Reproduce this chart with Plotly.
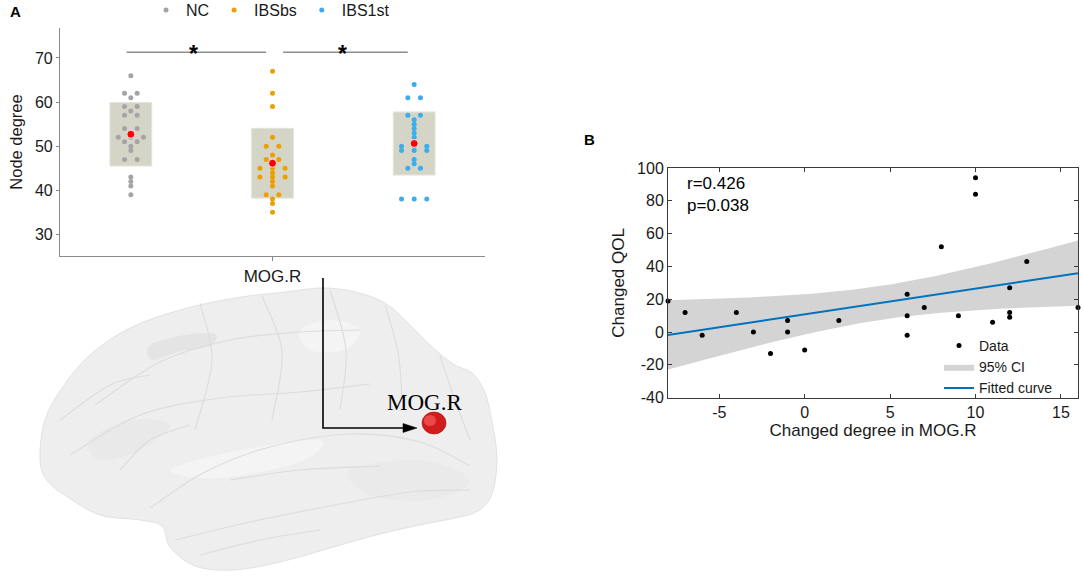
import numpy as np
import plotly.graph_objects as go

W, H = 1084, 582

# ---------------- data ----------------
groups = ["NC", "IBSbs", "IBS1st"]
region = "MOG.R"
nc_degree = [66, 62, 62, 61, 59, 59, 58, 57, 57, 54, 54, 52, 52, 52, 51, 51, 50, 49, 47, 47, 43, 42, 41, 39]
ibsbs_degree = [67, 62, 59, 52, 50, 50, 48, 47, 47, 45, 45, 45, 44, 43, 43, 43, 42, 41, 39, 39, 38, 37, 35]
ibs1st_degree = [64, 61, 61, 57, 57, 56, 55, 54, 53, 52, 50, 50, 50, 49, 49, 49, 47, 46, 45, 45, 38, 38, 38]
group_colors = ["#a4a4a4", "#eca000", "#3cadea"]
sig_pairs = [(0, 1), (1, 2)]
sig_marks = ["*", "*"]

changed_degree = [-8, -7, -6, -4, -3, -2, -1, -1, 0, 2, 6, 6, 6, 7, 8, 9, 10, 10, 11, 12, 12, 12, 13, 16]
changed_qol = [19, 12, -2, 12, 0, -13, 7, 0, -11, 7, 23, 10, -2, 15, 52, 10, 94, 84, 6, 27, 12, 9, 43, 15]
stat_text = ["r=0.426", "p=0.038"]
b_xticks = [-5, 0, 5, 10, 15]
b_yticks = [-40, -20, 0, 20, 40, 60, 80, 100]
a_yticks = [30, 40, 50, 60, 70]
T_CRIT = 2.0739  # t(0.975, df=22)

FONT = "Liberation Sans, Arial, sans-serif"
SERIF = "Liberation Serif, Times New Roman, serif"


def px(x):
    return x / W


def py(y):
    return 1 - y / H


def P(x, y):
    return f"{px(x):.5f},{py(y):.5f}"


def smooth_path(pts, closed=True):
    pts = list(pts)
    n = len(pts)
    s = "M" + P(*pts[0])
    rng = range(n) if closed else range(n - 1)
    for i in rng:
        p0 = pts[(i - 1) % n] if (closed or i > 0) else pts[i]
        p1 = pts[i]
        p2 = pts[(i + 1) % n]
        p3 = pts[(i + 2) % n] if (closed or i + 2 < n) else p2
        c1 = (p1[0] + (p2[0] - p0[0]) / 6, p1[1] + (p2[1] - p0[1]) / 6)
        c2 = (p2[0] - (p3[0] - p1[0]) / 6, p2[1] - (p3[1] - p1[1]) / 6)
        s += " C" + P(*c1) + " " + P(*c2) + " " + P(*p2)
    if closed:
        s += " Z"
    return s


def swarm_offsets(vals, step):
    vals = np.asarray(vals)
    off = np.zeros(len(vals))
    for v in np.unique(vals):
        idx = np.where(vals == v)[0]
        n = len(idx)
        off[idx] = (np.arange(n) - (n - 1) / 2) * 2 * step
    return off


def hyphen_labels(vals):
    return [str(v) for v in vals]


fig = go.Figure()

# ---------------- panel A ----------------
all_groups = [nc_degree, ibsbs_degree, ibs1st_degree]
pos = np.arange(1, len(groups) + 1)
means = [float(np.mean(g)) for g in all_groups]
sds = [float(np.std(g, ddof=1)) for g in all_groups]

fig.add_trace(go.Bar(
    x=pos, y=[2 * s for s in sds], base=[m - s for m, s in zip(means, sds)],
    width=0.295, marker=dict(color="#d5d5c7", line=dict(color="#e4e4da", width=1)),
    showlegend=False, hoverinfo="skip", xaxis="x", yaxis="y"))

for i, (name, vals, col) in enumerate(zip(groups, all_groups, group_colors)):
    off = swarm_offsets(vals, 0.0445)
    fig.add_trace(go.Scatter(
        x=pos[i] + off, y=vals, mode="markers", name=name,
        marker=dict(size=5, color=col), legend="legend", xaxis="x", yaxis="y"))

fig.add_trace(go.Scatter(
    x=pos, y=means, mode="markers", showlegend=False,
    marker=dict(size=8, color="#ff0000", line=dict(color="#f2e6e6", width=1)),
    xaxis="x", yaxis="y"))

sig_y = 71.3
for k, ((a, b), mark) in enumerate(zip(sig_pairs, sig_marks)):
    x0 = pos[a] + (-0.03 if k == 0 else 0.075)
    x1 = pos[b] - 0.045
    fig.add_trace(go.Scatter(
        x=[x0, x1], y=[sig_y, sig_y], mode="lines", showlegend=False,
        line=dict(color="#8e8e8e", width=1.3), hoverinfo="skip", xaxis="x", yaxis="y"))
    fig.add_annotation(x=(x0 + x1) / 2 - 0.02, y=sig_y - 0.4, xref="x", yref="y",
                       text="<b>" + mark + "</b>",
                       showarrow=False, yanchor="middle", xanchor="center",
                       font=dict(family=FONT, size=23, color="#000000"))

# ---------------- panel B ----------------
xd = np.asarray(changed_degree, float)
yd = np.asarray(changed_qol, float)
n = len(xd)
slope, intercept = np.polyfit(xd, yd, 1)
res = yd - (slope * xd + intercept)
s_res = np.sqrt(np.sum(res ** 2) / (n - 2))
sxx = np.sum((xd - xd.mean()) ** 2)
xs = np.linspace(xd.min(), xd.max(), 121)
yfit = slope * xs + intercept
half = T_CRIT * s_res * np.sqrt(1 / n + (xs - xd.mean()) ** 2 / sxx)

fig.add_trace(go.Scatter(
    x=np.concatenate([xs, xs[::-1]]), y=np.concatenate([yfit + half, (yfit - half)[::-1]]),
    fill="toself", fillcolor="#d4d4d4", line=dict(width=0, color="#d4d4d4"), mode="lines",
    name="95% CI", legend="legend2", legendrank=2, hoverinfo="skip",
    xaxis="x2", yaxis="y2"))
fig.add_trace(go.Scatter(
    x=xs, y=yfit, mode="lines", name="Fitted curve", line=dict(color="#0072bd", width=2),
    legend="legend2", legendrank=3, xaxis="x2", yaxis="y2"))
fig.add_trace(go.Scatter(
    x=xd, y=yd, mode="markers", name="Data", marker=dict(size=5, color="#000000"),
    legend="legend2", legendrank=1, xaxis="x2", yaxis="y2", cliponaxis=False))

# ---------------- brain illustration (decorative) ----------------
outline = [(40, 457), (45, 420), (62, 388), (90, 355), (130, 328), (180, 310), (235, 298),
           (285, 292), (323, 288), (355, 292), (385, 303), (410, 325), (430, 345), (453, 364),
           (472, 373), (485, 393), (493, 427), (497, 460), (492, 494), (478, 511), (455, 518),
           (420, 525), (380, 534), (330, 548), (280, 562), (233, 570), (195, 566), (170, 547),
           (162, 526), (140, 520), (100, 515), (66, 496), (46, 479)]
shapes = [dict(type="path", xref="paper", yref="paper", path=smooth_path(outline),
               fillcolor="#eeeeee", line=dict(color="#e2e2e2", width=1), layer="below")]
# subtle lighter/darker patches
for blob, col in (
        ([(150, 345), (185, 335), (215, 334), (210, 346), (178, 352), (152, 360)], "rgba(215,215,215,0.45)"),
        ([(300, 330), (330, 320), (360, 330), (345, 350), (310, 350)], "rgba(250,250,250,0.45)"),
        ([(170, 470), (240, 450), (320, 440), (300, 462), (220, 478)], "rgba(250,250,250,0.45)"),
        ([(90, 440), (130, 420), (170, 425), (140, 450), (100, 460)], "rgba(225,225,225,0.4)"),
        ([(350, 470), (420, 460), (470, 480), (430, 500), (370, 495)], "rgba(225,225,225,0.35)")):
    shapes.append(dict(type="path", xref="paper", yref="paper", path=smooth_path(blob),
                       fillcolor=col, line=dict(width=0), layer="below"))
inner = [
    [(150, 508), (205, 472), (270, 447), (350, 434), (420, 442), (470, 466)],
    [(175, 540), (250, 522), (330, 506), (410, 492), (470, 490)],
    [(95, 405), (160, 362), (230, 340), (300, 332), (360, 330)],
    [(70, 455), (140, 415), (220, 398), (300, 392), (370, 384)],
    [(200, 303), (212, 360), (195, 430)],
    [(262, 296), (282, 352), (272, 420)],
    [(330, 290), (346, 350), (340, 410)],
    [(385, 305), (398, 352), (402, 398)],
    [(440, 356), (455, 400), (470, 440)],
    [(120, 470), (150, 440), (190, 425)],
    [(60, 420), (110, 385), (150, 375)],
    [(230, 480), (300, 470), (380, 466)],
    [(200, 555), (260, 540), (320, 530)],
]
for curve in inner:
    shapes.append(dict(type="path", xref="paper", yref="paper",
                       path=smooth_path(curve, closed=False),
                       line=dict(color="#dcdcdc", width=1.1), layer="below"))
# arrow
shapes.append(dict(type="path", xref="paper", yref="paper",
                   path="M" + P(323, 278) + " L" + P(323, 428) + " L" + P(406, 428),
                   line=dict(color="#000000", width=1.6)))
shapes.append(dict(type="path", xref="paper", yref="paper",
                   path="M" + P(417, 428) + " L" + P(403, 423.5) + " L" + P(403, 432.5) + " Z",
                   fillcolor="#000000", line=dict(color="#000000", width=0.5)))
# sphere
shapes.append(dict(type="circle", xref="paper", yref="paper",
                   x0=px(422), x1=px(446), y0=py(434), y1=py(412),
                   fillcolor="#d21b1b", line=dict(color="#a81010", width=0.6)))
shapes.append(dict(type="circle", xref="paper", yref="paper",
                   x0=px(424), x1=px(436), y0=py(426), y1=py(415),
                   fillcolor="rgba(255,110,110,0.55)", line=dict(width=0)))

annotations = [
    dict(x=px(15), y=py(11.5), text="<b>A</b>", font=dict(family=FONT, size=15, color="#000000")),
    dict(x=px(589), y=py(139), text="<b>B</b>", font=dict(family=FONT, size=15, color="#000000")),
    dict(x=px(424), y=py(402), text=region, font=dict(family=SERIF, size=23, color="#000000")),
    dict(x=px(685), y=py(183), text=stat_text[0], xanchor="left",
         font=dict(family=FONT, size=17, color="#000000")),
    dict(x=px(685), y=py(205), text=stat_text[1], xanchor="left",
         font=dict(family=FONT, size=17, color="#000000")),
]
for a in annotations:
    a.setdefault("xanchor", "center")
    fig.add_annotation(xref="paper", yref="paper", showarrow=False, yanchor="middle", **a)

axis_gray = "#8a8a8a"
fig.update_layout(
    width=W, height=H, margin=dict(l=0, r=0, t=0, b=0, autoexpand=False),
    paper_bgcolor="#ffffff", plot_bgcolor="rgba(0,0,0,0)",
    font=dict(family=FONT, color="#1a1a1a"),
    shapes=shapes, showlegend=True,
    xaxis=dict(domain=[px(60), px(485)], range=[0.5, 3.5], tickvals=[2], ticktext=[region],
               ticks="outside", ticklen=4, tickcolor=axis_gray, showline=True, linecolor=axis_gray,
               linewidth=1.2, showgrid=False, zeroline=False, anchor="y",
               tickfont=dict(size=17, color="#1a1a1a")),
    yaxis=dict(domain=[py(256), py(28)], range=[25.1, 76.8], tickvals=a_yticks,
               ticktext=hyphen_labels(a_yticks),
               ticks="outside", ticklen=3, tickcolor=axis_gray, showline=True, linecolor=axis_gray,
               linewidth=1.2, showgrid=False, zeroline=False, anchor="x",
               tickfont=dict(size=16, color="#1a1a1a"),
               title=dict(text="Node degree", font=dict(size=16.5, color="#1a1a1a"), standoff=8)),
    xaxis2=dict(domain=[px(668), px(1078)], range=[-8, 16], tickvals=b_xticks,
                ticktext=hyphen_labels(b_xticks),
                ticks="inside", ticklen=4, tickcolor="#3a3a3a", showline=True, linecolor="#3a3a3a",
                linewidth=1, mirror="ticks", showgrid=False, zeroline=False, anchor="y2",
                tickfont=dict(size=16, color="#1a1a1a"),
                title=dict(text="Changed degree in MOG.R", font=dict(size=17, color="#1a1a1a"), standoff=4)),
    yaxis2=dict(domain=[py(397.7), py(168)], range=[-40, 100], tickvals=b_yticks,
                ticktext=hyphen_labels(b_yticks),
                ticks="inside", ticklen=4, tickcolor="#3a3a3a", showline=True, linecolor="#3a3a3a",
                linewidth=1, mirror="ticks", showgrid=False, zeroline=False, anchor="x2",
                tickfont=dict(size=16, color="#1a1a1a"),
                title=dict(text="Changed QOL", font=dict(size=17, color="#1a1a1a"), standoff=8)),
    legend=dict(orientation="h", x=px(146), y=py(10), xanchor="left", yanchor="middle",
                bgcolor="rgba(0,0,0,0)", font=dict(size=16, color="#1a1a1a")),
    legend2=dict(orientation="v", x=px(939), y=py(330), xanchor="left", yanchor="top",
                 bgcolor="rgba(0,0,0,0)", font=dict(size=14, color="#1a1a1a"),
                 traceorder="normal"),
)

fig.write_html("out.html", config={"displayModeBar": False},
               post_script="document.body.style.margin='0';document.body.style.overflow='hidden';")
